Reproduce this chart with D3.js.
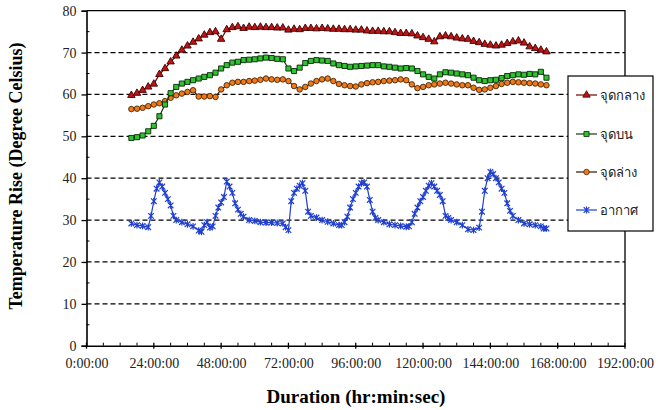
<!DOCTYPE html>
<html>
<head>
<meta charset="utf-8">
<script src="https://cdn.jsdelivr.net/npm/d3@7"></script>
<style>
  body { margin: 0; background: #fff; }
  svg { display: block; }
</style>
</head>
<body>
<svg id="chart" width="658" height="410"></svg>
<script>
// data (hours, degree C)
const hours = [16,18,20,22,24,26,28,30,32,34,36,38,40,42,44,46,48,50,52,54,56,58,60,62,64,66,68,70,72,74,76,78,80,82,84,86,88,90,92,94,96,98,100,102,104,106,108,110,112,114,116,118,120,122,124,126,128,130,132,134,136,138,140,142,144,146,148,150,152,154,156,158,160,162,164];

const middle = [59.8,60.3,61,61.8,62.5,64.8,66.2,67.8,69.2,70.6,71.6,72.5,73.3,74.2,74.8,75,73.2,75.5,76,76.2,75.8,76.1,76,76.1,76,76,75.9,75.9,75.4,75.6,75.5,75.8,75.8,75.7,75.8,75.7,75.6,75.6,75.5,75.5,75.4,75.4,75.2,75.1,75.1,75,75,74.8,74.6,74.6,74.5,74,73.6,73.2,72.6,73.8,74,73.8,73.5,73.3,73.2,72.7,72.4,72,71.8,71.6,71.8,72.2,72.6,72.8,72.3,71.4,71,70.6,70.2];

const top_ = [49.6,49.8,50.2,51.2,52.5,54.8,57.6,60.3,61.8,62.6,63,63.4,63.8,64.2,64.6,65.2,66.2,67,67.6,67.8,68.2,68.3,68.4,68.6,68.8,68.7,68.5,68.4,66.2,65.6,66.4,67.5,68,68.2,68.1,68,67.4,67,66.8,66.6,66.7,66.8,66.9,67,67,66.7,66.6,66.4,66.2,66.3,66.2,65.6,64.8,64.2,63.8,64.8,65.3,65.2,65,64.8,64.6,64,63.4,63.2,63.4,63.5,63.9,64.4,64.6,64.8,64.7,64.9,64.8,65.4,64];

const bottom = [56.5,56.6,56.8,57.2,57.6,57.9,58.4,59.2,59.8,60.2,60.6,61,59.5,59.5,59.6,59.4,61.2,62.2,62.8,63,63,63.2,63.3,63.5,63.8,63.6,63.5,63.6,63.2,62,61.2,61.8,62.6,63.2,63.6,63.8,63.2,62.5,62.2,62,61.9,62.4,62.7,62.9,63,63.2,63.3,63.4,63.6,63.4,62.4,61.5,61.8,62.2,62.4,62.6,62.8,62.6,62.4,62.2,62.2,61.6,61.1,61.2,61.6,62,62.5,62.8,63,62.9,62.8,62.7,62.6,62.4,62.2];

const airHours = [16,18,20,22,23,24,25,26,27,28,29,30,31,32,34,36,38,40,41,42,43,44,45,46,47,48,49,50,51,52,53,54,55,56,58,60,62,64,66,68,70,71,72,73,74,75,76,77,78,79,80,82,84,86,88,90,91,92,93,94,95,96,97,98,99,100,101,102,103,104,106,108,110,112,114,115,116,117,118,119,120,121,122,123,124,125,126,127,128,129,130,132,134,136,138,140,141,142,143,144,145,146,147,148,149,150,151,152,154,156,158,160,162,163,164];

const air = [29.2,28.8,28.6,28.3,31,34.5,37.5,39,38,36.5,35,33.5,31,30,29.5,29,28.5,27.5,27.2,28.8,29.5,28.2,28.5,31,33,34.2,35.5,39.2,38,36.5,34,32.5,31.5,30.8,30,29.8,29.5,29.4,29.4,29.3,29.2,28.3,27.6,34.5,36.5,37.5,38.2,38.8,37,32,31,30.6,30,29.6,29.2,28.8,28.8,29.5,30.8,33,35,36.5,38,38.8,39,38,34.8,32,30.5,30,29.5,29,28.8,28.6,28.4,28.5,29.5,31.5,33,34.5,35.5,37,38.2,38.8,38,37,36,34.5,31,30.5,30,29.5,28.8,27.8,27.6,28.2,32,37,40,41.5,41,40,39,37.5,36.5,34,32.2,31,30,29.2,29,28.8,28.5,28,28];

const xTicks = [0,24,48,72,96,120,144,168,192];
const yTicks = [0,10,20,30,40,50,60,70,80];
const names = ["จุดกลาง","จุดบน","จุดล่าง","อากาศ"];

const svg = d3.select("#chart");

// plot area
const left = 86.5, right = 625, topY = 10.7, bottomY = 345.7;
const x = d3.scaleLinear().domain([0, 192]).range([left, right]);
const y = d3.scaleLinear().domain([0, 80]).range([bottomY, topY]);

// dashed grid lines
svg.append("g")
  .selectAll("line")
  .data(yTicks.filter(d => d > 0 && d < 80))
  .enter().append("line")
  .attr("x1", left).attr("x2", right)
  .attr("y1", d => y(d)).attr("y2", d => y(d))
  .attr("stroke", "#000")
  .attr("stroke-width", 1.2)
  .attr("stroke-dasharray", "5,3");

// frame top and right
svg.append("path")
  .attr("d", `M${left},${topY}H${right}V${bottomY}`)
  .attr("fill", "none").attr("stroke", "#000").attr("stroke-width", 1.3);

// x axis
const xAxis = svg.append("g").attr("transform", `translate(0,${bottomY})`)
  .call(d3.axisBottom(x).tickValues(xTicks).tickSize(0).tickPadding(12)
    .tickFormat(d => d + ":00:00"));
xAxis.select(".domain").attr("stroke-width", 1.6);
xAxis.selectAll("text")
  .attr("font-family", "'Liberation Serif', serif")
  .attr("font-size", 14).attr("fill", "#222");

// major x ticks cross the axis
svg.append("g").selectAll("line").data(xTicks).enter().append("line")
  .attr("x1", d => x(d)).attr("x2", d => x(d))
  .attr("y1", bottomY - 3).attr("y2", bottomY + 3)
  .attr("stroke", "#000").attr("stroke-width", 1.3);

// minor x ticks every 6h, inside
svg.append("g").selectAll("line").data(d3.range(6, 192, 6).filter(d => d % 24 !== 0)).enter().append("line")
  .attr("x1", d => x(d)).attr("x2", d => x(d))
  .attr("y1", bottomY - 3).attr("y2", bottomY)
  .attr("stroke", "#000").attr("stroke-width", 1);

// y axis
const yAxis = svg.append("g").attr("transform", `translate(${left},0)`)
  .call(d3.axisLeft(y).tickValues(yTicks).tickSize(5).tickPadding(5));
yAxis.select(".domain").attr("stroke-width", 1.6);
yAxis.selectAll(".tick line").attr("stroke-width", 1.3);
yAxis.selectAll("text")
  .attr("font-family", "'Liberation Serif', serif")
  .attr("font-size", 14).attr("fill", "#222");

// minor y ticks, inside
svg.append("g").selectAll("line").data(d3.range(5, 80, 10)).enter().append("line")
  .attr("x1", left).attr("x2", left + 3)
  .attr("y1", d => y(d)).attr("y2", d => y(d))
  .attr("stroke", "#000").attr("stroke-width", 1);

// axis titles
svg.append("text")
  .attr("transform", "translate(22,176) rotate(-90)")
  .attr("text-anchor", "middle")
  .attr("font-family", "'Liberation Serif', serif")
  .attr("font-weight", "bold").attr("font-size", 18)
  .text("Temperature Rise (Degree Celsius)");

svg.append("text")
  .attr("x", 356).attr("y", 403)
  .attr("text-anchor", "middle")
  .attr("font-family", "'Liberation Serif', serif")
  .attr("font-weight", "bold").attr("font-size", 19)
  .text("Duration (hr:min:sec)");

// marker shapes
const tri = d3.symbol().type(d3.symbolTriangle).size(24)();
const sq = d3.symbol().type(d3.symbolSquare).size(26)();
const circ = d3.symbol().type(d3.symbolCircle).size(24)();
const star = "M-2.8,-2.8L2.8,2.8M-2.8,2.8L2.8,-2.8M0,-3.4V3.4";

const series = [
  {name: names[0], t: hours, v: middle, line: "#6b0000", fill: "#c01414", stroke: "#3a0000", shape: tri},
  {name: names[1], t: hours, v: top_, line: "#143a14", fill: "#2ec42e", stroke: "#0a260a", shape: sq},
  {name: names[2], t: hours, v: bottom, line: "#2e1a08", fill: "#ee7a1c", stroke: "#4a2606", shape: circ},
  {name: names[3], t: airHours, v: air, line: "#1f3fd0", fill: "none", stroke: "#1f3fd0", shape: star}
];

const line = d3.line().x(d => x(d[0])).y(d => y(d[1]));

// draw in back-to-front order
[series[3], series[2], series[1], series[0]].forEach(s => {
  const pts = s.t.map((t, i) => [t, s.v[i]]);
  const g = svg.append("g");
  g.append("path")
    .attr("d", line(pts))
    .attr("fill", "none")
    .attr("stroke", s.line)
    .attr("stroke-width", 1.2);
  g.selectAll("path.m").data(pts).enter().append("path")
    .attr("class", "m")
    .attr("d", s.shape)
    .attr("transform", d => `translate(${x(d[0])},${y(d[1])})`)
    .attr("fill", s.fill)
    .attr("stroke", s.stroke)
    .attr("stroke-width", s.fill === "none" ? 1.2 : 0.9);
});

// legend box
const legend = svg.append("g");
legend.append("rect")
  .attr("x", 568).attr("y", 76).attr("width", 85).attr("height", 155)
  .attr("fill", "#fff").attr("stroke", "#000").attr("stroke-width", 1.2);

const legendY = [95, 134, 172, 210];
series.forEach((s, i) => {
  const ly = legendY[i];
  legend.append("line")
    .attr("x1", 576).attr("x2", 597).attr("y1", ly).attr("y2", ly)
    .attr("stroke", s.line).attr("stroke-width", 1.2);
  legend.append("path")
    .attr("d", s.shape)
    .attr("transform", `translate(586.5,${ly})`)
    .attr("fill", s.fill).attr("stroke", s.stroke)
    .attr("stroke-width", s.fill === "none" ? 1.2 : 0.8);
  legend.append("text")
    .attr("x", 600).attr("y", ly + 5)
    .attr("font-family", "'Noto Sans', 'DejaVu Sans', sans-serif")
    .attr("font-size", 13).attr("fill", "#222")
    .text(s.name);
});
</script>
</body>
</html>
